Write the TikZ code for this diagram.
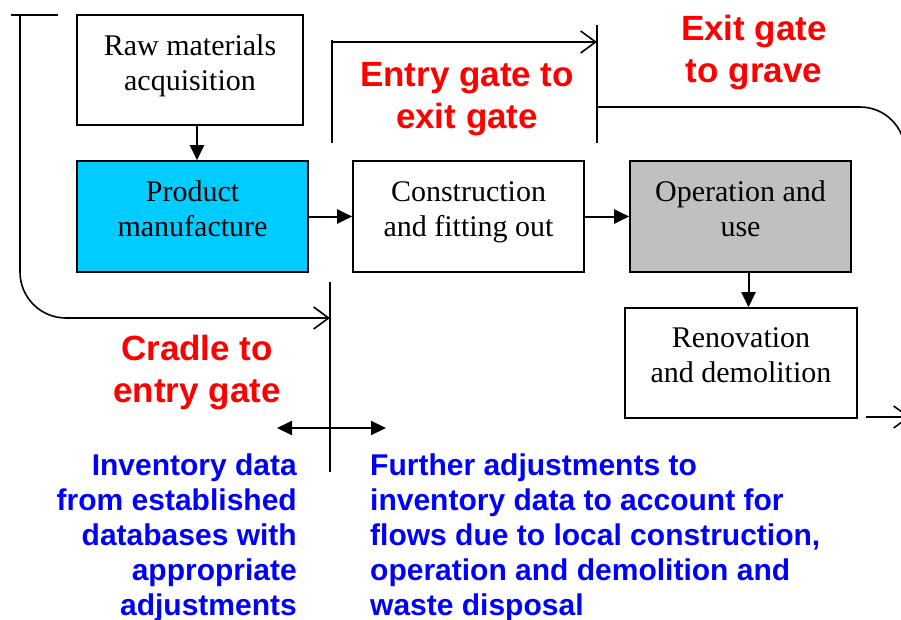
\documentclass[tikz,border=0pt]{standalone}
\usepackage{fontspec}
\setmainfont{Liberation Serif}
\newfontfamily\gatefont{Liberation Sans}
\usetikzlibrary{arrows.meta}
\usetikzlibrary{positioning}
\definecolor{manucyan}{RGB}{0,204,255}
\definecolor{opergray}{RGB}{192,192,192}
\definecolor{gatered}{RGB}{255,0,0}
\definecolor{noteblue}{RGB}{0,0,255}

\begin{document}
\begin{tikzpicture}[x=1pt,y=-1pt,>={Triangle[length=15pt,width=14pt]},
    box/.style={draw,line width=1.6pt,inner sep=0pt},
    box text/.style={font=\fontsize{30}{35}\selectfont,align=center,yshift=8pt},
    gate/.style={line width=1.6pt},
    barb/.style={-{Straight Barb[length=15pt,width=22pt,line width=1.6pt]}},
    gate label/.style={text=gatered,font=\gatefont\bfseries\fontsize{35}{42}\selectfont,align=center,inner sep=0pt},
    note/.style={text=noteblue,font=\gatefont\bfseries\fontsize{30}{35}\selectfont,inner sep=0pt}]
    \useasboundingbox (0,0) rectangle (901,619);
    \clip (0,0) rectangle (901,619);
    % stages
    \node[box,minimum width=226pt,minimum height=110pt,label={[box text,yshift=-3.5pt]center:{Raw materials\\acquisition}}] (raw) at (190,70) {};
    \node[box,fill=manucyan,minimum width=231pt,minimum height=111pt,label={[box text]center:{Product\\manufacture}}] (manu) at (192.5,216.5) {};
    \node[box,minimum width=231pt,minimum height=111pt,label={[box text,yshift=-3.5pt]center:{Construction\\and fitting out}}] (cons) at (468.5,216.5) {};
    \node[box,fill=opergray,minimum width=221pt,minimum height=111pt,label={[box text]center:{Operation and\\use}}] (oper) at (740.5,216.5) {};
    \node[box,minimum width=232pt,minimum height=110pt,label={[box text]center:{Renovation\\and demolition}}] (reno) at (741,363) {};
    \path[->,line width=2pt] ([xshift=7pt]raw.south) edge ([xshift=7pt]raw.south |- manu.north);
    \path[->,line width=2pt] (manu) edge (cons);
    \path[->,line width=2pt] (cons) edge (oper);
    \path[->,line width=2pt] ([xshift=8pt]oper.south) edge ([xshift=8pt]oper.south |- reno.north);

    % gates
    \coordinate (e1) at (332,40);
    \coordinate (e2) at (332,143);
    \coordinate (x1) at (597,25);
    \coordinate (x2) at (597,143);
    \coordinate (c1) at (330,282);
    \coordinate (c2) at (330,472);
    \draw[gate] (e1) -- (e2);
    \draw[gate] (x1) -- (x2);
    \draw[gate] (c1) -- (c2);
    \draw[gate,barb] ([yshift=-2pt]e1) -- ([yshift=-2pt]e1 -| x1);
    \draw[gate] (11,15) -- (58,15);
    \draw[gate,rounded corners=46pt,barb] (20,15) -- (20,318) -- (c1 |- 20,318);
    \draw[gate,rounded corners=45pt] (x1 |- 597,107) -- (905,107) -- (905,300);
    \draw[gate,barb] (866,417) -- (910,417);
    \draw[<->,line width=2pt] (277,428) -- (386,428);

    \node[gate label] (entry) at (467,99) {Entry gate to\\exit gate};
    \node[gate label] (exit) at (754,53) {Exit gate\\to grave};
    \node[gate label] (cradle) at (197,373) {Cradle to\\entry gate};

    \node[note,anchor=north east,align=right] (known) at (297,454) {Inventory data\\from established\\databases with\\appropriate\\adjustments};
    \node[note,anchor=north west,align=left] (local) at (370,454) {Further adjustments to\\inventory data to account for\\flows due to local construction,\\operation and demolition and\\waste disposal};
\end{tikzpicture}
\end{document}
